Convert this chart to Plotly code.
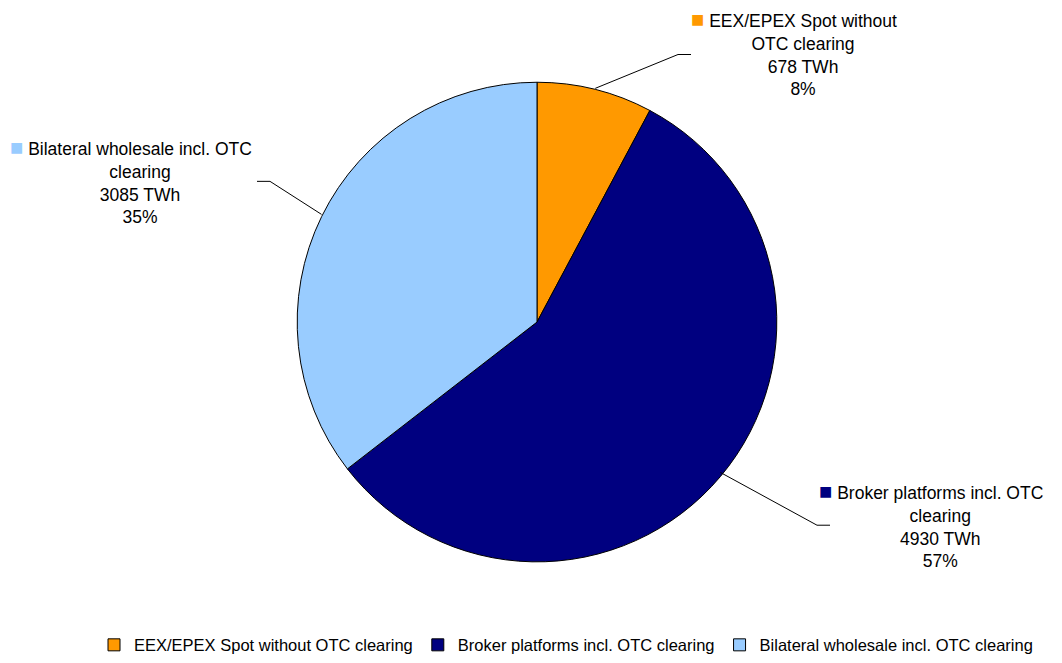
import math
import plotly.graph_objects as go

# Traded electricity volumes by venue
categories = [
    "EEX/EPEX Spot without OTC clearing",
    "Broker platforms incl. OTC clearing",
    "Bilateral wholesale incl. OTC clearing",
]
label_lines = [
    ["EEX/EPEX Spot without", "OTC clearing"],
    ["Broker platforms incl. OTC", "clearing"],
    ["Bilateral wholesale incl. OTC", "clearing"],
]
volumes_twh = [678, 4930, 3085]
colors = ["#FF9900", "#000080", "#99CCFF"]

W, H = 1062, 663
FONT = "Arial, Liberation Sans, sans-serif"

# pie domain geometry in pixels
CX, CY, R = 537, 325, 242
# drawn circle (slightly inset by plotly)
DCX, DCY, DR = 537, 322, 240
# label block centres and leader elbows (pixels)
label_pos = [(803, 53), (940, 530), (140, 183)]
elbows = [((678, 55), (691, 55)), ((817, 530), (830, 530)), ((270, 183), (257, 183))]


def px(x):
    return x / W


def py(y):
    return 1 - y / H


fig = go.Figure(
    go.Pie(
        labels=categories,
        values=volumes_twh,
        sort=False,
        direction="clockwise",
        rotation=0,
        marker=dict(colors=colors, line=dict(color="#000000", width=1)),
        textinfo="none",
        hoverinfo="label+value+percent",
        domain=dict(x=[px(CX - R), px(CX + R)], y=[py(CY + R), py(CY - R)]),
    )
)

total = sum(volumes_twh)
cum = 0.0
annotations = []
shapes = []
for name, lines, val, col, (lx, ly), (e1, e2) in zip(
    categories, label_lines, volumes_twh, colors, label_pos, elbows
):
    mid = (cum + val / 2) / total * 2 * math.pi
    cum += val
    sx = DCX + DR * math.sin(mid)
    sy = DCY - DR * math.cos(mid)
    shapes.append(
        dict(
            type="path",
            xref="paper",
            yref="paper",
            path=f"M {px(sx)},{py(sy)} L {px(e1[0])},{py(e1[1])} L {px(e2[0])},{py(e2[1])}",
            line=dict(color="#000000", width=1),
        )
    )
    pct = round(val / total * 100)
    key = f"<span style='color:{col};font-size:22px'>■</span> "
    pad = " <span style='color:rgba(0,0,0,0);font-size:22px'>■</span>"
    text = "<br>".join(
        [key + lines[0] + pad] + lines[1:] + [f"{val} TWh", f"{pct}%"]
    )
    annotations.append(
        dict(
            x=px(lx),
            y=py(ly),
            xref="paper",
            yref="paper",
            text=text,
            showarrow=False,
            xanchor="center",
            yanchor="middle",
            align="center",
            font=dict(family=FONT, size=17.5, color="#000000"),
        )
    )

fig.update_layout(
    width=W,
    height=H,
    margin=dict(l=0, r=0, t=0, b=0),
    paper_bgcolor="#FFFFFF",
    plot_bgcolor="#FFFFFF",
    font=dict(family=FONT, size=17, color="#000000"),
    showlegend=True,
    legend=dict(
        orientation="h",
        x=px(566),
        xanchor="center",
        y=py(651),
        yanchor="middle",
        font=dict(family=FONT, size=16.5, color="#000000"),
        itemwidth=30,
        traceorder="normal",
    ),
    annotations=annotations,
    shapes=shapes,
)

fig.write_html("out.html")
